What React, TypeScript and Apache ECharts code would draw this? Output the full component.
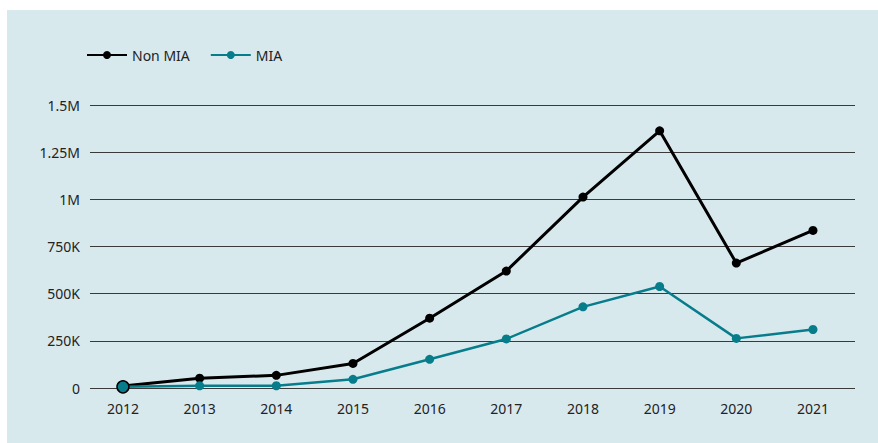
import React, { useEffect, useRef } from "react";
import * as echarts from "echarts";

const years = [2012, 2013, 2014, 2015, 2016, 2017, 2018, 2019, 2020, 2021];
const nonMia = [10000, 52000, 67000, 130000, 370000, 620000, 1012000, 1363000, 662000, 835000];
const mia = [6000, 12000, 12000, 46000, 152000, 260000, 430000, 538000, 263000, 310000];
const yTicks = [0, 250000, 500000, 750000, 1000000, 1250000, 1500000];
const yTickLabels = ["0", "250K", "500K", "750K", "1M", "1.25M", "1.5M"];

const FONT = "'Noto Sans', sans-serif";

export default function App() {
  const ref = useRef<HTMLDivElement>(null);
  useEffect(() => {
    if (!ref.current) return;
    const chart = echarts.init(ref.current, undefined, { renderer: "svg" });
    chart.setOption({
      animation: false,
      backgroundColor: "#d8e9ee",
      textStyle: { fontFamily: FONT },
      legend: {
        left: 74,
        top: 33,
        itemWidth: 40,
        itemHeight: 10,
        itemGap: 20,
        textStyle: { fontSize: 14, color: "#222", fontFamily: FONT },
        data: ["Non MIA", "MIA"],
      },
      grid: { left: 83, right: 23, top: 95, bottom: 55, containLabel: false },
      xAxis: {
        type: "value",
        min: 2011.57,
        max: 2021.548,
        splitLine: { show: false },
        axisLine: { show: false },
        axisTick: { show: false },
        axisLabel: {
          customValues: years,
          fontSize: 14,
          color: "#222",
          margin: 13,
          fontFamily: FONT,
          formatter: (v: number) => String(Math.round(v)),
        },
      },
      yAxis: {
        type: "value",
        min: 0,
        max: 1500000,
        interval: 250000,
        axisLine: { show: false },
        axisTick: { show: false },
        splitLine: { lineStyle: { color: "#3a3a3a", width: 1 } },
        axisLabel: {
          fontSize: 14,
          color: "#222",
          margin: 10,
          fontFamily: FONT,
          formatter: (v: number) => {
            const i = yTicks.indexOf(v);
            return i >= 0 ? yTickLabels[i] : "";
          },
        },
      },
      series: [
        {
          name: "Non MIA",
          type: "line",
          data: years.map((y, i) => [y, nonMia[i]]),
          symbol: "circle",
          symbolSize: 9,
          lineStyle: { color: "#000", width: 3 },
          itemStyle: { color: "#000" },
        },
        {
          name: "MIA",
          type: "line",
          data: years.map((y, i) =>
            i === 0
              ? { value: [y, mia[i]], symbolSize: 12, itemStyle: { color: "#077d8c", borderColor: "#000", borderWidth: 1.5 } }
              : [y, mia[i]]
          ),
          symbol: "circle",
          symbolSize: 9,
          lineStyle: { color: "#077d8c", width: 2.5 },
          itemStyle: { color: "#077d8c" },
        },
      ],
    });
    return () => chart.dispose();
  }, []);
  return (
    <div style={{ position: "fixed", left: 0, top: 0, width: 878, height: 443, background: "#fff" }}>
      <div ref={ref} style={{ position: "absolute", left: 7, top: 10, width: 871, height: 433 }} />
    </div>
  );
}
